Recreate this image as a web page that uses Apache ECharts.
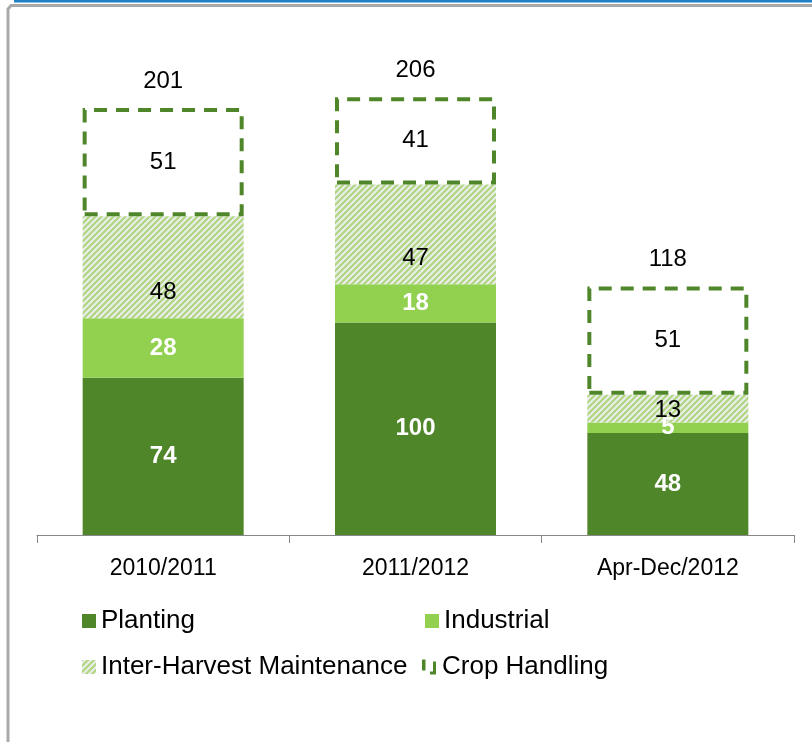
<!DOCTYPE html>
<html>
<head>
<meta charset="utf-8">
<script src="https://cdn.jsdelivr.net/npm/echarts@6/dist/echarts.min.js"></script>
<style>html,body{margin:0;padding:0;background:#fff;}#c{width:812px;height:742px;}</style>
</head>
<body>
<div id="c"></div>
<script>
const categories = ['2010/2011', '2011/2012', 'Apr-Dec/2012'];
const planting = [74, 100, 48];
const industrial = [28, 18, 5];
const interHarvest = [48, 47, 13];
const cropHandling = [51, 41, 51];
const totals = [201, 206, 118];

const FONT = '"Liberation Sans", Arial, sans-serif';
const DARK = '#50862A';
const LIGHT = '#92D050';

// hatch pattern
const tile = document.createElement('canvas');
tile.width = 6; tile.height = 6;
const g = tile.getContext('2d');
g.fillStyle = '#ededed';
g.fillRect(0, 0, 6, 6);
g.strokeStyle = '#aed77f';
g.lineWidth = 2.2;
g.beginPath();
g.moveTo(-1, 7); g.lineTo(7, -1);
g.moveTo(-4, 4); g.lineTo(4, -4);
g.moveTo(2, 10); g.lineTo(10, 2);
g.stroke();
const hatch = { image: tile, repeat: 'repeat' };

const hatchLabelShift = [25, 24, 2];

const chart = echarts.init(document.getElementById('c'), null, { renderer: 'canvas' });

const legendBase = {
  icon: 'rect', padding: 0,
  itemWidth: 14, itemHeight: 14, itemGap: 6,
  textStyle: { fontFamily: FONT, fontSize: 26, color: '#000' },
  selectedMode: false
};

chart.setOption({
  animation: false,
  textStyle: { fontFamily: FONT },
  graphic: [
    { type: 'rect', shape: { x: 14, y: 0, width: 798, height: 2.5 }, style: { fill: '#1f7fc4' }, silent: true },
    { type: 'polyline', shape: { points: [[8, 742], [8, 9], [11, 5.5], [812, 5.5]] }, style: { stroke: '#a9a9a9', lineWidth: 3, fill: null }, silent: true }
  ],
  legend: [
    Object.assign({}, legendBase, { data: ['Planting'], left: 82, top: 608 }),
    Object.assign({}, legendBase, { data: ['Industrial'], left: 425, top: 608 }),
    Object.assign({}, legendBase, { data: ['Inter-Harvest Maintenance'], left: 82, top: 654 }),
    Object.assign({}, legendBase, {
      data: ['Crop Handling'], left: 422, top: 654,
      icon: 'path://M0,0H3.5V11H0Z M11,2H14V15H8V12H11Z',
      itemWidth: 16, itemHeight: 15,
      itemStyle: { color: DARK, borderWidth: 0 }
    })
  ],
  grid: { left: 37, right: 18, top: 25, bottom: 207, containLabel: false },
  xAxis: {
    type: 'category',
    data: categories,
    axisLine: { lineStyle: { color: '#888888', width: 1.2 } },
    axisTick: { show: true, length: 8, lineStyle: { color: '#888888' } },
    axisLabel: { fontFamily: FONT, fontSize: 23, color: '#000', margin: 22 }
  },
  yAxis: { type: 'value', min: 0, max: 240, show: false, splitLine: { show: false } },
  series: [
    {
      name: 'Planting', type: 'bar', stack: 's', barWidth: 161,
      data: planting,
      itemStyle: { color: DARK },
      label: { show: true, position: 'inside', color: '#fff', fontWeight: 'bold', fontSize: 24, fontFamily: FONT }
    },
    {
      name: 'Industrial', type: 'bar', stack: 's',
      data: industrial,
      itemStyle: { color: LIGHT },
      label: { show: true, position: 'inside', color: '#fff', fontWeight: 'bold', fontSize: 24, fontFamily: FONT }
    },
    {
      name: 'Inter-Harvest Maintenance', type: 'bar', stack: 's',
      data: interHarvest.map((v, i) => ({ value: v, label: { offset: [0, hatchLabelShift[i]] } })),
      itemStyle: { color: hatch },
      label: { show: true, position: 'inside', color: '#000', fontSize: 24, fontFamily: FONT }
    },
    {
      name: 'Crop Handling', type: 'bar', stack: 's',
      data: cropHandling,
      itemStyle: { color: '#ffffff', borderColor: DARK, borderWidth: 4, borderType: [13, 9] },
      label: { show: true, position: 'inside', color: '#000', fontSize: 24, fontFamily: FONT }
    },
    {
      name: 'Total', type: 'bar', stack: 's',
      data: totals.map(() => 0),
      itemStyle: { color: 'transparent' },
      label: {
        show: true, position: 'top', distance: 15, color: '#000', fontSize: 24, fontFamily: FONT,
        formatter: p => String(totals[p.dataIndex])
      },
      tooltip: { show: false }
    }
  ]
});
</script>
</body>
</html>
